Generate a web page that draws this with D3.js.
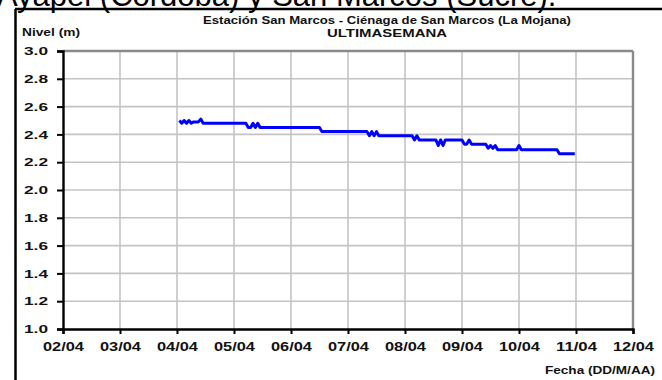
<!DOCTYPE html>
<html><head><meta charset="utf-8">
<script src="https://cdn.jsdelivr.net/npm/d3@7"></script>
<style>
html,body{margin:0;padding:0;background:#fff;overflow:hidden;}
svg{display:block;font-family:"Liberation Sans",Arial,sans-serif;}
</style></head>
<body>
<svg id="c" width="662" height="380"></svg>
<script>
// ---- data ----
const times = ["04/04 01:00","04/04 02:00","04/04 03:00","04/04 04:00","04/04 05:00","04/04 06:00","04/04 07:00","04/04 09:00","04/04 10:00","04/04 11:00",
"05/04 05:00","05/04 06:00","05/04 07:00","05/04 08:00","05/04 09:00","05/04 10:00","05/04 11:00",
"06/04 12:00","06/04 13:00",
"07/04 08:00","07/04 09:00","07/04 10:00","07/04 11:00","07/04 12:00","07/04 13:00",
"08/04 03:00","08/04 04:00","08/04 05:00","08/04 06:00","08/04 13:00","08/04 14:00","08/04 15:00","08/04 16:00","08/04 17:00",
"09/04 00:00","09/04 01:00","09/04 02:00","09/04 03:00","09/04 04:00","09/04 10:00","09/04 11:00","09/04 12:00","09/04 13:00","09/04 14:00","09/04 15:00","09/04 23:00",
"10/04 00:00","10/04 01:00","10/04 16:00","10/04 17:00","10/04 23:30"];
const levels = [2.50,2.48,2.50,2.48,2.50,2.48,2.49,2.49,2.51,2.48,
2.48,2.45,2.45,2.48,2.45,2.48,2.45,
2.45,2.42,
2.42,2.39,2.42,2.39,2.42,2.39,
2.39,2.36,2.39,2.36,2.36,2.32,2.36,2.32,2.36,
2.36,2.33,2.33,2.36,2.33,2.33,2.30,2.32,2.30,2.32,2.29,2.29,
2.32,2.29,2.29,2.26,2.26];
const xDomain = ["02/04 00:00","12/04 00:00"];
const yTicks = [1.0,1.2,1.4,1.6,1.8,2.0,2.2,2.4,2.6,2.8,3.0];
const title = "Estación San Marcos - Ciénaga de San Marcos (La Mojana)";
const subtitle = "ULTIMASEMANA";
const yTitle = "Nivel (m)";
const xTitle = "Fecha (DD/M/AA)";
const heading = "Ayapel (Córdoba) y San Marcos (Sucre).";

// ---- drawing ----
const parse = d3.timeParse("%d/%m %H:%M");
const data = times.map((t,i)=>({t:parse(t), v:levels[i]}));
const svg = d3.select("#c");
const L=63, R=633, T=51, B=329;
const x = d3.scaleTime().domain(xDomain.map(parse)).range([L,R]);
const y = d3.scaleLinear().domain([1,3]).range([B,T]);

// heading (clipped at top, as in the source page)
svg.append("text").attr("x",-3).attr("y",6).attr("font-size",31).attr("fill","#000")
  .attr("font-family","Liberation Sans, Arial, sans-serif").text(heading);
// frame
svg.append("line").attr("x1",15.5).attr("x2",15.5).attr("y1",9).attr("y2",380).attr("stroke","#000").attr("stroke-width",2.5);
svg.append("line").attr("x1",15).attr("x2",662).attr("y1",9).attr("y2",9).attr("stroke","#000").attr("stroke-width",2.5);

// grid
const dayTicks = x.ticks(d3.timeDay.every(1));
svg.append("g").selectAll("line").data(dayTicks.slice(1,-1)).join("line")
  .attr("x1",d=>x(d)).attr("x2",d=>x(d)).attr("y1",T).attr("y2",B)
  .attr("stroke","#c4c4c4").attr("stroke-width",1.6);
svg.append("g").selectAll("line").data(yTicks.slice(1,-1)).join("line")
  .attr("x1",L).attr("x2",R).attr("y1",d=>y(d)).attr("y2",d=>y(d))
  .attr("stroke","#c4c4c4").attr("stroke-width",1.6);
// top & right border
svg.append("line").attr("x1",L).attr("x2",R).attr("y1",T).attr("y2",T).attr("stroke","#8a8a8a").attr("stroke-width",2.4);
svg.append("line").attr("x1",R).attr("x2",R).attr("y1",T).attr("y2",B).attr("stroke","#8a8a8a").attr("stroke-width",2.4);

// axes
const yAxis = svg.append("g").attr("transform",`translate(${L},0)`)
  .call(d3.axisLeft(y).tickValues(yTicks).tickSize(6).tickPadding(9).tickFormat(d3.format(".1f")));
const xAxis = svg.append("g").attr("transform",`translate(0,${B})`)
  .call(d3.axisBottom(x).ticks(d3.timeDay.every(1)).tickSize(5).tickPadding(7).tickFormat(d3.timeFormat("%d/%m")));
[yAxis,xAxis].forEach(g=>{
  g.select(".domain").attr("stroke","#000").attr("stroke-width",2.4);
  g.selectAll(".tick line").attr("stroke","#000").attr("stroke-width",2);
  g.selectAll("text").attr("font-family","Liberation Sans, Arial, sans-serif").attr("font-weight","bold").attr("fill","#111");
});
yAxis.selectAll("text").attr("font-size",11.5).attr("textLength",24).attr("lengthAdjust","spacingAndGlyphs");
xAxis.selectAll("text").attr("font-size",13.5).attr("textLength",41).attr("lengthAdjust","spacingAndGlyphs");

// line
svg.append("path").datum(data)
  .attr("d",d3.line().x(d=>x(d.t)).y(d=>y(d.v)))
  .attr("fill","none").attr("stroke","#0000ff").attr("stroke-width",3).attr("stroke-linejoin","round");

// texts
svg.append("text").attr("x",203).attr("y",24).attr("font-size",10).attr("font-weight","bold")
  .attr("textLength",368).attr("lengthAdjust","spacingAndGlyphs").attr("fill","#111").text(title);
svg.append("text").attr("x",327).attr("y",37).attr("font-size",10).attr("font-weight","bold")
  .attr("textLength",120).attr("lengthAdjust","spacingAndGlyphs").attr("fill","#111").text(subtitle);
svg.append("text").attr("x",22).attr("y",36).attr("font-size",10).attr("font-weight","bold")
  .attr("textLength",58).attr("lengthAdjust","spacingAndGlyphs").attr("fill","#111").text(yTitle);
svg.append("text").attr("x",545).attr("y",374).attr("font-size",10).attr("font-weight","bold")
  .attr("textLength",110).attr("lengthAdjust","spacingAndGlyphs").attr("fill","#111").text(xTitle);
</script>
</body></html>
